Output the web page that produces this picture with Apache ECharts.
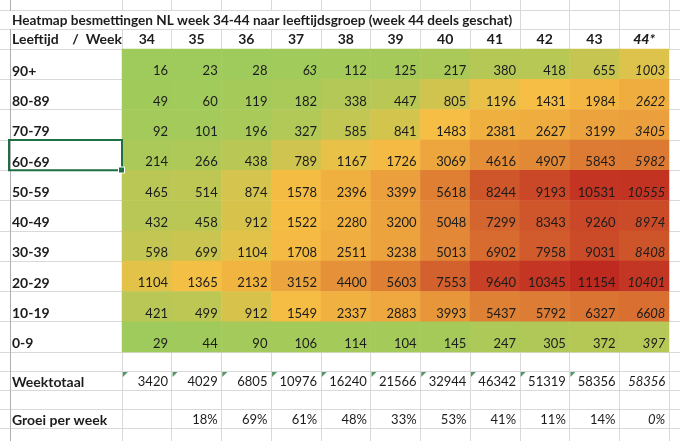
<!DOCTYPE html>
<html><head><meta charset="utf-8">
<script src="https://cdn.jsdelivr.net/npm/echarts@6/dist/echarts.min.js"></script>
<style>html,body{margin:0;padding:0;background:#fff}#c{width:680px;height:441px}</style>
</head><body><div id="c"></div>
<script>
// ---- data ----
const weeks = ['34','35','36','37','38','39','40','41','42','43','44*'];
const ageGroups = ['90+','80-89','70-79','60-69','50-59','40-49','30-39','20-29','10-19','0-9'];
const age90plus = [16,23,28,63,112,125,217,380,418,655,1003];
const age80_89 = [49,60,119,182,338,447,805,1196,1431,1984,2622];
const age70_79 = [92,101,196,327,585,841,1483,2381,2627,3199,3405];
const age60_69 = [214,266,438,789,1167,1726,3069,4616,4907,5843,5982];
const age50_59 = [465,514,874,1578,2396,3399,5618,8244,9193,10531,10555];
const age40_49 = [432,458,912,1522,2280,3200,5048,7299,8343,9260,8974];
const age30_39 = [598,699,1104,1708,2511,3238,5013,6902,7958,9031,8408];
const age20_29 = [1104,1365,2132,3152,4400,5603,7553,9640,10345,11154,10401];
const age10_19 = [421,499,912,1549,2337,2883,3993,5437,5792,6327,6608];
const age0_9 = [29,44,90,106,114,104,145,247,305,372,397];
const weekTotals = [3420,4029,6805,10976,16240,21566,32944,46342,51319,58356,58356];
const growthPct = [null,18,69,61,48,33,53,41,11,14,0];
const estimatedWeek = 10;              // week 44* column shown in italics
const italicCells = [[3,0]];           // [weekIndex, ageIndex] extra italic value (63)
const textFlagged = [1,1,1,1,1,1,1,1,1,1,0]; // green corner markers on week totals
const bottomRows = ['', 'Weektotaal', '', 'Groei per week', ''];

const rows = [age90plus,age80_89,age70_79,age60_69,age50_59,age40_49,age30_39,age20_29,age10_19,age0_9];

// 3-colour scale: min -> green, 50th percentile -> yellow, max -> red
const all = rows.flat().slice().sort((a,b)=>a-b);
const vMin = all[0], vMax = all[all.length-1];
const vMid = (all[all.length/2-1] + all[all.length/2]) / 2;
function scaleT(v){
  return v <= vMid ? 0.5*(v-vMin)/(vMid-vMin) : 0.5 + 0.5*(v-vMid)/(vMax-vMid);
}

const FONT = 'Lato';
const TXT = '#1c1c1c';
const GRIDC = '#d9d9d9';
const LBL = 14;

const heatData = [];
rows.forEach((row, yi) => row.forEach((v, xi) => {
  const it = xi === estimatedWeek || italicCells.some(c => c[0]===xi && c[1]===yi);
  const item = {value:[xi, yi, v, scaleT(v)]};
  if (it) item.label = {fontStyle:'italic'};
  heatData.push(item);
}));
const totalData = weekTotals.map((v, xi) => {
  const item = {value:[xi, 1, v]};
  if (xi === estimatedWeek) item.label = {fontStyle:'italic'};
  return item;
});
const growthData = [];
growthPct.forEach((v, xi) => {
  if (v === null) return;
  const item = {value:[xi, 3, v]};
  if (xi === estimatedWeek) item.label = {fontStyle:'italic'};
  growthData.push(item);
});
const flagData = [];
textFlagged.forEach((f, xi) => { if (f) flagData.push([xi, 1]); });

function lineAxisCat(data, opts){
  return Object.assign({type:'category', data:data, show:true,
    axisLine:{show:false}, axisTick:{show:false}, axisLabel:{show:false},
    splitLine:{show:true, interval:0, lineStyle:{color:GRIDC, width:1}}}, opts||{});
}
function hiddenVal(gi){
  return {type:'value', gridIndex:gi, show:false, min:0, max:1};
}

const chart = echarts.init(document.getElementById('c'), null, {renderer:'canvas'});
const dataLabel = {show:true, position:'insideRight', distance:4, offset:[0,7],
  fontFamily:FONT, fontSize:13, color:TXT};
const boldLbl = {fontFamily:FONT, fontWeight:'bold', fontSize:LBL, color:TXT};

chart.setOption({
  backgroundColor:'#ffffff',
  animation:false,
  textStyle:{fontFamily:FONT},
  title:[
    {text:'Heatmap besmettingen NL week 34-44 naar leeftijdsgroep (week 44 deels geschat)',
     left:10, top:11, padding:[1,7,0,2], backgroundColor:'#ffffff',
     textStyle:Object.assign({}, boldLbl, {fontSize:13.6, lineHeight:17})},
    {text:'Leeftijd    /  Week', left:10, top:31, padding:[0,2,0,2],
     textStyle:Object.assign({lineHeight:16}, boldLbl)}
  ],
  grid:[
    {left:122, top:49, width:547, height:303, outerBoundsMode:'none'},   // 0 heat cells
    {left:122, top:352, width:547, height:95, outerBoundsMode:'none'},   // 1 totals + vertical lines bottom
    {left:122, top:0, width:547, height:49, outerBoundsMode:'none'},     // 2 vertical lines top
    {left:0, top:49, width:122, height:303, outerBoundsMode:'none'},     // 3 row lines left column
    {left:669, top:49, width:30, height:303, outerBoundsMode:'none'},    // 4 row lines right strip
    {left:0, top:352, width:680, height:95, outerBoundsMode:'none'},     // 5 bottom row lines
    {left:0, top:10, width:680, height:39, outerBoundsMode:'none'},      // 6 top row lines
    {left:10, top:0, width:670, height:441, outerBoundsMode:'none'}      // 7 sheet border
  ],
  xAxis:[
    {type:'category', gridIndex:0, data:weeks, position:'top',
     axisLine:{show:false}, axisTick:{show:false}, splitLine:{show:false},
     axisLabel:Object.assign({interval:0, margin:3,
       formatter:v => v.indexOf('*')>=0 ? '{i|'+v+'}' : v,
       rich:{i:Object.assign({fontStyle:'italic'}, boldLbl, {fontWeight:900})}}, boldLbl)},
    lineAxisCat(weeks, {gridIndex:1}),
    lineAxisCat(weeks, {gridIndex:2}),
    hiddenVal(3), hiddenVal(4), hiddenVal(5), hiddenVal(6),
    lineAxisCat(['s'], {gridIndex:7, splitLine:{show:true, interval:0, lineStyle:{color:['#b0b0b0','#ffffff'], width:1}}})
  ],
  yAxis:[
    {type:'category', gridIndex:0, data:ageGroups, inverse:true,
     axisLine:{show:false}, axisTick:{show:false}, splitLine:{show:false},
     axisLabel:Object.assign({interval:0, margin:110, align:'left',
       formatter:v => '{a|' + v + '}',
       rich:{a:Object.assign({padding:[14,0,0,0]}, boldLbl)}}, boldLbl)},
    {type:'category', gridIndex:1, data:bottomRows, inverse:true,
     axisLine:{show:false}, axisTick:{show:false}, splitLine:{show:false},
     axisLabel:Object.assign({interval:0, margin:110, align:'left',
       formatter:v => v ? '{a|' + v + '}' : '',
       rich:{a:Object.assign({padding:[3,0,0,0]}, boldLbl)}}, boldLbl)},
    hiddenVal(2),
    lineAxisCat(ageGroups, {gridIndex:3}),
    lineAxisCat(ageGroups, {gridIndex:4}),
    lineAxisCat(bottomRows, {gridIndex:5}),
    lineAxisCat(['a','b'], {gridIndex:6}),
    hiddenVal(7)
  ],
  visualMap:{type:'continuous', show:false, seriesIndex:0, dimension:3, min:0, max:1,
    inRange:{color:['#9ecb5c','#f6bf44','#bf2a20']}},
  series:[
    {type:'heatmap', xAxisIndex:0, yAxisIndex:0, data:heatData, z:3,
     label:Object.assign({}, dataLabel, {formatter:p => String(p.value[2])}),
     emphasis:{disabled:true}},
    {type:'heatmap', xAxisIndex:1, yAxisIndex:1, data:totalData, z:3,
     itemStyle:{color:'rgba(255,255,255,0)'},
     label:Object.assign({}, dataLabel, {offset:[0,1.5], formatter:p => String(p.value[2])}),
     emphasis:{disabled:true}},
    {type:'heatmap', xAxisIndex:1, yAxisIndex:1, data:growthData, z:3,
     itemStyle:{color:'rgba(255,255,255,0)'},
     label:Object.assign({}, dataLabel, {offset:[0,1.5], formatter:p => p.value[2] + '%'}),
     emphasis:{disabled:true}},
    {type:'scatter', xAxisIndex:1, yAxisIndex:1, data:flagData, z:4, silent:true,
     symbol:'path://M0,0L10,0L0,10Z', symbolSize:5, symbolOffset:[-21.5,-6],
     itemStyle:{color:'#2c7a3f'}}
  ],
  graphic:[
    {type:'rect', z:100, shape:{x:9, y:139.9, width:113, height:30.3},
     style:{fill:'none', stroke:'#1f6f43', lineWidth:2}},
    {type:'rect', z:101, shape:{x:118.5, y:167, width:6, height:6},
     style:{fill:'#1f6f43', stroke:'#ffffff', lineWidth:1}}
  ]
});
</script></body></html>
